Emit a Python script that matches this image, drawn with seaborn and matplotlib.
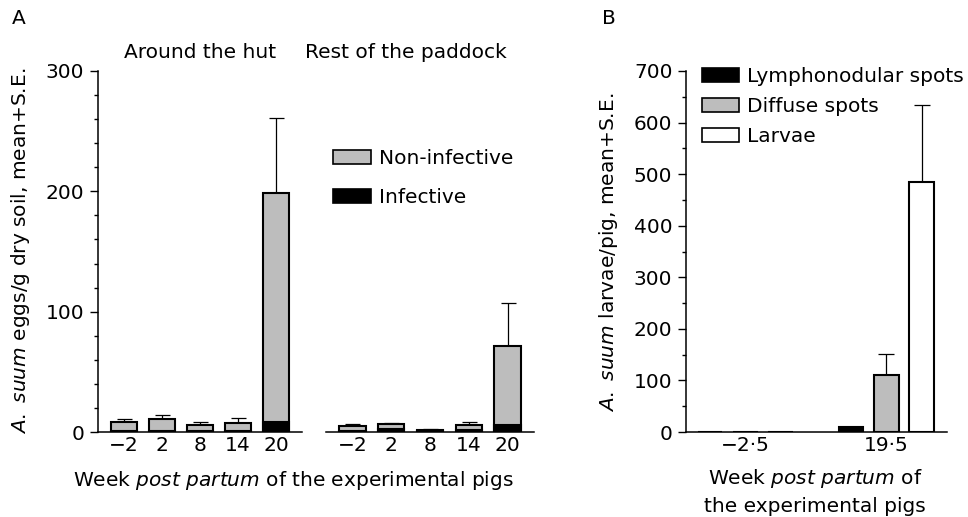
import numpy as np
import pandas as pd
import matplotlib
matplotlib.use("Agg")
import matplotlib.pyplot as plt
from matplotlib.patches import Patch
from matplotlib.ticker import MultipleLocator
import seaborn as sns

# ---------------- data ----------------
weeks_a = ["\u22122", "2", "8", "14", "20"]
hut_total = [8.5, 11, 5.5, 7.5, 199]
hut_infective = [0.5, 0.5, 1, 0.5, 8.5]
hut_se = [2, 3, 3, 4.5, 62]

paddock_total = [5.3, 6.4, 1.8, 5.5, 71.5]
paddock_infective = [1, 2.5, 1.2, 1.5, 6]
paddock_se = [1.3, 0.8, 0.3, 2.5, 35.5]

weeks_b = ["\u22122\u00b75", "19\u00b75"]
lesion_types = ["Lymphonodular spots", "Diffuse spots", "Larvae"]
lympho = [0, 9]
lympho_se = [0, 1.5]
diffuse = [0, 111]
diffuse_se = [0, 40]
larvae = [0, 485]
larvae_se = [0, 150]

GRAY = "#bdbdbd"

sns.set_theme(style="ticks")
plt.rcParams["font.family"] = ["DejaVu Sans"]
plt.rcParams["mathtext.fontset"] = "dejavusans"
for k in ["text.color", "axes.labelcolor", "xtick.color", "ytick.color", "axes.edgecolor"]:
    plt.rcParams[k] = "black"
FS = 14.5

W, H = 968, 517
fig = plt.figure(figsize=(W / 100, H / 100), dpi=100)


def px_axes(x0, x1, ytop, ybot):
    return fig.add_axes([x0 / W, (H - ybot) / H, (x1 - x0) / W, (ybot - ytop) / H])


def style_axes(ax, show_y=True):
    for s in ["top", "right"]:
        ax.spines[s].set_visible(False)
    ax.spines["bottom"].set_linewidth(1.1)
    ax.spines["left"].set_linewidth(1.1)
    ax.tick_params(axis="x", length=0, pad=3, labelsize=FS, colors="black")
    if show_y:
        ax.tick_params(axis="y", which="major", length=5.8, width=1.0, pad=4, labelsize=FS,
                       direction="out", colors="black")
        ax.tick_params(axis="y", which="minor", length=3.2, width=1.0, direction="out", colors="black")
    else:
        ax.spines["left"].set_visible(False)
        ax.tick_params(axis="y", which="both", left=False, labelleft=False)
    ax.set_xlabel("")
    ax.set_ylabel("")


def stacked(ax, total, inf, se):
    sns.barplot(x=weeks_a, y=total, color=GRAY, edgecolor="black", linewidth=1.5,
                width=0.68, saturation=1, errorbar=None, ax=ax, zorder=2)
    sns.barplot(x=weeks_a, y=inf, color="black", edgecolor="black", linewidth=1.5,
                width=0.68, saturation=1, errorbar=None, ax=ax, zorder=3)
    bars = ax.containers[0]
    xs = [b.get_x() + b.get_width() / 2 for b in bars]
    ax.errorbar(xs, total, yerr=[np.zeros(len(se)), se], fmt="none", ecolor="black",
                elinewidth=0.9, capsize=5.4, capthick=0.9, zorder=1)
    ax.set_ylim(0, 300)
    ax.set_xlim(-0.68, 4.68)
    ax.yaxis.set_major_locator(MultipleLocator(100))
    ax.yaxis.set_minor_locator(MultipleLocator(20))


# Panel A
axA1 = px_axes(98, 302, 71, 432)
stacked(axA1, hut_total, hut_infective, hut_se)
style_axes(axA1, True)

axA2 = px_axes(326, 534, 71, 432)
stacked(axA2, paddock_total, paddock_infective, paddock_se)
style_axes(axA2, False)

# Panel B
dfB = pd.DataFrame({
    "week": weeks_b * 3,
    "type": [t for t in lesion_types for _ in weeks_b],
    "value": lympho + diffuse + larvae,
})
ses_b = [lympho_se, diffuse_se, larvae_se]
axB = px_axes(686, 947, 71, 432)
sns.barplot(data=dfB, x="week", y="value", hue="type", hue_order=lesion_types,
            palette={"Lymphonodular spots": "black", "Diffuse spots": GRAY, "Larvae": "white"},
            edgecolor="black", linewidth=1.5, width=0.75, gap=0.3, saturation=1,
            errorbar=None, legend=False, ax=axB, zorder=2)
vals_b = [lympho, diffuse, larvae]
for cont, vals, se in zip(axB.containers, vals_b, ses_b):
    for b, v, e in zip(cont, vals, se):
        if e > 0:
            axB.errorbar([b.get_x() + b.get_width() / 2], [v], yerr=[[0], [e]], fmt="none",
                         ecolor="black", elinewidth=0.9, capsize=6, capthick=0.9, zorder=1)
axB.set_ylim(0, 700)
axB.set_xlim(-0.42, 1.43)
axB.yaxis.set_major_locator(MultipleLocator(100))
axB.yaxis.set_minor_locator(MultipleLocator(50))
style_axes(axB, True)

# Legends
legA = fig.legend(handles=[Patch(facecolor=GRAY, edgecolor="black", linewidth=1.2, label="Non-infective"),
                           Patch(facecolor="black", edgecolor="black", linewidth=1.2, label="Infective")],
                  loc="upper left", bbox_to_anchor=(333 / W, 1 - 149 / H), frameon=False,
                  fontsize=FS, handlelength=1.9, handleheight=0.7, handletextpad=0.4,
                  labelspacing=1.0, borderpad=0, borderaxespad=0)
legB = fig.legend(handles=[Patch(facecolor="black", edgecolor="black", linewidth=1.2, label=lesion_types[0]),
                           Patch(facecolor=GRAY, edgecolor="black", linewidth=1.2, label=lesion_types[1]),
                           Patch(facecolor="white", edgecolor="black", linewidth=1.2, label=lesion_types[2])],
                  loc="upper left", bbox_to_anchor=(702 / W, 1 - 67 / H), frameon=False,
                  fontsize=FS, handlelength=1.85, handleheight=0.7, handletextpad=0.4,
                  labelspacing=0.55, borderpad=0, borderaxespad=0)

# Texts
fig.text(12 / W, 1 - 19 / H, "A", fontsize=FS, ha="left", va="center")
fig.text(602 / W, 1 - 19 / H, "B", fontsize=FS, ha="left", va="center")
fig.text(200 / W, 1 - 52 / H, "Around the hut", fontsize=FS, ha="center", va="center")
fig.text(406 / W, 1 - 52 / H, "Rest of the paddock", fontsize=FS, ha="center", va="center")
fig.text(21 / W, 1 - 251 / H, r"$\it{A.\ suum}$ eggs/g dry soil, mean+S.E.", fontsize=FS,
         rotation=90, ha="center", va="center")
fig.text(608 / W, 1 - 252 / H, r"$\it{A.\ suum}$ larvae/pig, mean+S.E.", fontsize=FS,
         rotation=90, ha="center", va="center")
fig.text(293 / W, 1 - 480 / H, r"Week $\it{post\ partum}$ of the experimental pigs",
         fontsize=FS, ha="center", va="center")
fig.text(815 / W, 1 - 479 / H, r"Week $\it{post\ partum}$ of", fontsize=FS, ha="center", va="center")
fig.text(815 / W, 1 - 506 / H, "the experimental pigs", fontsize=FS, ha="center", va="center")

fig.savefig("out.png", dpi=100)
